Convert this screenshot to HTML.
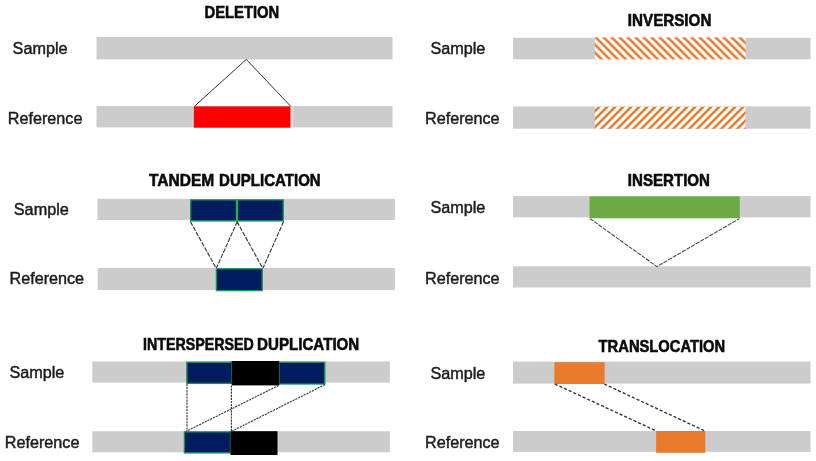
<!DOCTYPE html>
<html>
<head>
<meta charset="utf-8">
<title>Structural variants</title>
<style>
  html, body { margin: 0; padding: 0; background: #ffffff; }
  body { width: 816px; height: 461px; overflow: hidden; font-family: "Liberation Sans", sans-serif; }
  svg { display: block; filter: blur(0.45px); }
  .lbl { font-family: "Liberation Sans", sans-serif; font-size: 16px; fill: #1c1c1c; stroke: #1c1c1c; stroke-width: 0.45px; }
  .ttl { font-family: "Liberation Sans", sans-serif; font-size: 16.1px; font-weight: bold; fill: #0a0a0a; stroke: #0a0a0a; stroke-width: 0.55px; }
  .bar { fill: #cccccc; }
  .blue { fill: #001c5e; stroke: #0f9650; stroke-width: 1.3; }
  .dash { stroke: #3a3a3a; stroke-width: 1.15; fill: none; stroke-dasharray: 2.2 0.9; }
  .dashI { stroke: #444444; stroke-width: 1.05; fill: none; stroke-dasharray: 4.2 1.1; }
  .dashT { stroke: #303030; stroke-width: 1.35; fill: none; stroke-dasharray: 3.1 2; }
  .dashL { stroke: #3a3a3a; stroke-width: 1.15; fill: none; stroke-dasharray: 4.6 1.3; }
  .solid { stroke: #333333; stroke-width: 1; fill: none; }
</style>
</head>
<body>
<svg width="816" height="461" viewBox="0 0 816 461">
  <defs>
    <pattern id="hatchA" width="8" height="8" patternUnits="userSpaceOnUse" patternTransform="translate(-1.6,0)">
      <rect width="8" height="8" fill="#ffffff"/>
      <path d="M-2,-2 L10,10 M-2,6 L2,10 M6,-2 L10,2" stroke="#e8782a" stroke-width="2.5"/>
    </pattern>
    <pattern id="hatchB" width="8" height="8" patternUnits="userSpaceOnUse" patternTransform="translate(2.1,0)">
      <rect width="8" height="8" fill="#ffffff"/>
      <path d="M-2,10 L10,-2 M-2,2 L2,-2 M6,10 L10,6" stroke="#e8782a" stroke-width="2.5"/>
    </pattern>
  </defs>
  <rect x="0" y="0" width="816" height="461" fill="#ffffff"/>

  <!-- ============ DELETION ============ -->
  <text class="ttl" x="204.6" y="18.0" textLength="74.6" lengthAdjust="spacingAndGlyphs">DELETION</text>
  <text class="lbl" x="12.6" y="53.6" textLength="55" lengthAdjust="spacingAndGlyphs">Sample</text>
  <rect class="bar" x="96.5" y="37" width="296" height="22.4"/>
  <text class="lbl" x="7.8" y="123.6" textLength="74.6" lengthAdjust="spacingAndGlyphs">Reference</text>
  <rect class="bar" x="96.5" y="106.1" width="296" height="21.3"/>
  <rect x="290.4" y="106.6" width="2.6" height="20.6" fill="#eedcdc"/>
  <rect x="193.9" y="106.4" width="96.5" height="21.3" fill="#fe0000"/>
  <path class="solid" d="M194.3,106.4 L246.3,59.4 L290.8,106.4"/>

  <!-- ============ TANDEM DUPLICATION ============ -->
  <text class="ttl" x="149" y="185.8" textLength="65.3" lengthAdjust="spacingAndGlyphs">TANDEM</text>
  <text class="ttl" x="219.1" y="185.8" textLength="101.6" lengthAdjust="spacingAndGlyphs">DUPLICATION</text>
  <text class="lbl" x="13.8" y="214.8" textLength="55" lengthAdjust="spacingAndGlyphs">Sample</text>
  <rect class="bar" x="97.5" y="198.8" width="297.4" height="21.3"/>
  <rect class="blue" x="190.7" y="199.9" width="46.3" height="21"/>
  <rect class="blue" x="237" y="199.9" width="46.2" height="21"/>
  <line x1="237" y1="199.2" x2="237" y2="221.6" stroke="#20b24f" stroke-width="2.3"/>
  <text class="lbl" x="9.5" y="284.4" textLength="74.6" lengthAdjust="spacingAndGlyphs">Reference</text>
  <rect class="bar" x="97.7" y="268" width="297.2" height="22"/>
  <rect class="blue" x="216.4" y="268.8" width="45.8" height="21.8"/>
  <path class="dashL" d="M190.4,221.6 L216,268 M237.3,221.6 L216.4,268 M237,221.6 L262.6,268 M283.6,221.6 L263,268"/>

  <!-- ============ INTERSPERSED DUPLICATION ============ -->
  <text class="ttl" x="143.1" y="349.5" textLength="110.8" lengthAdjust="spacingAndGlyphs">INTERSPERSED</text>
  <text class="ttl" x="257.1" y="349.5" textLength="102.2" lengthAdjust="spacingAndGlyphs">DUPLICATION</text>
  <text class="lbl" x="9.4" y="378.4" textLength="55" lengthAdjust="spacingAndGlyphs">Sample</text>
  <rect class="bar" x="92.3" y="361.5" width="297.6" height="21.1"/>
  <rect class="blue" x="186.9" y="362.2" width="44.8" height="21.2"/>
  <rect class="blue" x="279.2" y="362.2" width="45.6" height="21.8"/>
  <rect x="231.7" y="361" width="47.5" height="24.4" fill="#000000"/>
  <text class="lbl" x="4.8" y="448.4" textLength="74.6" lengthAdjust="spacingAndGlyphs">Reference</text>
  <rect class="bar" x="92.3" y="431.2" width="297.6" height="21.1"/>
  <rect class="blue" x="184.4" y="431.9" width="46.1" height="21"/>
  <rect x="230.5" y="431.2" width="47" height="23.8" fill="#000000"/>
  <path class="dash" d="M187,384 L187,431.2 M231.4,385.4 L231.4,431.2 M278.8,385.4 L186,431.4 M325,384.6 L231.4,431.4"/>

  <!-- ============ INVERSION ============ -->
  <text class="ttl" x="627.8" y="25.6" textLength="83.6" lengthAdjust="spacingAndGlyphs">INVERSION</text>
  <text class="lbl" x="430.4" y="53.6" textLength="55" lengthAdjust="spacingAndGlyphs">Sample</text>
  <rect class="bar" x="513" y="37.8" width="297.5" height="21.5"/>
  <rect x="594.8" y="37.3" width="150.7" height="22.1" fill="url(#hatchA)"/>
  <text class="lbl" x="425" y="123.6" textLength="74.6" lengthAdjust="spacingAndGlyphs">Reference</text>
  <rect class="bar" x="513" y="106.4" width="297.5" height="22.3"/>
  <rect x="594.8" y="107" width="150.7" height="21.7" fill="url(#hatchB)"/>

  <!-- ============ INSERTION ============ -->
  <text class="ttl" x="627.8" y="185.6" textLength="82.2" lengthAdjust="spacingAndGlyphs">INSERTION</text>
  <text class="lbl" x="430.4" y="213.1" textLength="55" lengthAdjust="spacingAndGlyphs">Sample</text>
  <rect class="bar" x="513" y="196.1" width="297.5" height="21.3"/>
  <rect x="589.5" y="196.4" width="150.3" height="21.9" fill="#6dab46"/>
  <text class="lbl" x="425" y="283.6" textLength="74.6" lengthAdjust="spacingAndGlyphs">Reference</text>
  <rect class="bar" x="513" y="266.3" width="297.5" height="21.2"/>
  <path class="dashI" d="M590,218.6 L656.9,266.6 L739.4,218.6"/>

  <!-- ============ TRANSLOCATION ============ -->
  <text class="ttl" x="598.6" y="352.0" textLength="126.6" lengthAdjust="spacingAndGlyphs">TRANSLOCATION</text>
  <text class="lbl" x="430.4" y="378.5" textLength="55" lengthAdjust="spacingAndGlyphs">Sample</text>
  <rect class="bar" x="513" y="361.6" width="297.5" height="22"/>
  <rect x="554.4" y="362.2" width="50.2" height="21.8" fill="#e97b2d"/>
  <text class="lbl" x="425" y="448.3" textLength="74.6" lengthAdjust="spacingAndGlyphs">Reference</text>
  <rect class="bar" x="513" y="431" width="297.5" height="20.9"/>
  <rect x="656.1" y="431" width="49.2" height="21.8" fill="#e97b2d"/>
  <path class="dashT" d="M554.8,384 L656.4,431 M604.2,384 L705,431"/>
</svg>
</body>
</html>
